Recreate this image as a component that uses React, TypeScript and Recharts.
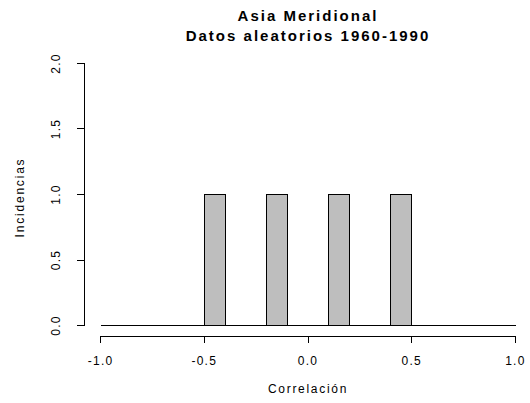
import React from "react";
import { Bar, ComposedChart, ReferenceLine, XAxis, YAxis } from "recharts";

// histogram bins (width 0.1) and counts
const binMids = [
  -0.95, -0.85, -0.75, -0.65, -0.55, -0.45, -0.35, -0.25, -0.15, -0.05,
  0.05, 0.15, 0.25, 0.35, 0.45, 0.55, 0.65, 0.75, 0.85, 0.95,
];
const counts = [0, 0, 0, 0, 0, 1, 0, 0, 1, 0, 0, 1, 0, 0, 1, 0, 0, 0, 0, 0];

const xTicks = [-1, -0.5, 0, 0.5, 1];
const yTicks = [0, 0.5, 1, 1.5, 2];

const title1 = "Asia Meridional";
const title2 = "Datos aleatorios 1960-1990";
const xLabel = "Correlación";
const yLabel = "Incidencias";

// R style axis ranges (4% extension)
const xDomain = [-1.08, 1.08];
const yDomain = [-0.08, 2.08];

const data = binMids.map((mid, i) => ({ mid, count: counts[i] }));

const FONT = '"Liberation Sans", Arial, Helvetica, sans-serif';

const HistRect = (props: any) => {
  const { x, y, width, height } = props;
  if (x == null || y == null) return null;
  return (
    <path
      d={`M${x},${y}h${width}v${height}h${-width}Z`}
      fill="#BEBEBE"
      stroke="#000"
      strokeWidth={1}
      shapeRendering="crispEdges"
    />
  );
};

const XTick = (props: any) => {
  const { x, y, payload } = props;
  return (
    <text
      x={x}
      y={y + 22}
      textAnchor="middle"
      fontSize={12}
      fontFamily={FONT}
      letterSpacing={1.2}
      fill="#000"
    >
      {payload.value.toFixed(1)}
    </text>
  );
};

const YTick = (props: any) => {
  const { x, y, payload } = props;
  const bx = x - 17;
  return (
    <text
      x={bx}
      y={y}
      transform={`rotate(-90, ${bx}, ${y})`}
      textAnchor="middle"
      fontSize={12}
      fontFamily={FONT}
      letterSpacing={1.2}
      fill="#000"
    >
      {payload.value.toFixed(1)}
    </text>
  );
};

export default function App() {
  return (
    <div
      style={{
        position: "absolute",
        left: 0,
        top: 0,
        width: 530,
        height: 403,
        overflow: "hidden",
        background: "#fff",
        fontFamily: FONT,
      }}
    >
      <div
        style={{
          position: "absolute",
          left: 308,
          top: 6,
          transform: "translateX(-50%)",
          whiteSpace: "nowrap",
          textAlign: "center",
          fontWeight: "bold",
          fontSize: 15,
          lineHeight: "19.5px",
          letterSpacing: 2,
          color: "#000",
        }}
      >
        <div>{title1}</div>
        <div>{title2}</div>
      </div>
      <ComposedChart
        width={532}
        height={403}
        data={data}
        margin={{ top: 53, right: 0, bottom: 0, left: 0 }}
        barCategoryGap={0}
        barGap={0}
      >
        <XAxis
          dataKey="mid"
          type="number"
          domain={xDomain}
          ticks={xTicks}
          allowDataOverflow
          axisLine={false}
          tickLine={{ stroke: "#000", shapeRendering: "crispEdges" }}
          tickSize={7}
          tickMargin={0}
          height={67}
          tick={<XTick />}
          interval={0}
          label={{
            content: (p: any) => {
              const vb = p.viewBox;
              return (
                <text
                  x={vb.x + vb.width / 2}
                  y={393}
                  textAnchor="middle"
                  fontSize={12}
                  fontFamily={FONT}
                  letterSpacing={1.7}
                  fill="#000"
                >
                  {xLabel}
                </text>
              );
            },
          }}
        />
        <YAxis
          type="number"
          domain={yDomain}
          ticks={yTicks}
          allowDataOverflow
          axisLine={false}
          tickLine={{ stroke: "#000", shapeRendering: "crispEdges" }}
          tickSize={7}
          tickMargin={0}
          width={84}
          tick={<YTick />}
          interval={0}
          label={{
            content: (p: any) => {
              const vb = p.viewBox;
              const lx = vb.x + 24;
              const ly = vb.y + vb.height / 2 + 3;
              return (
                <text
                  x={lx}
                  y={ly}
                  transform={`rotate(-90, ${lx}, ${ly})`}
                  textAnchor="middle"
                  fontSize={12}
                  fontFamily={FONT}
                  letterSpacing={1.8}
                  fill="#000"
                >
                  {yLabel}
                </text>
              );
            },
          }}
        />
        <Bar
          dataKey="count"
          shape={<HistRect />}
          isAnimationActive={false}
        />
        <ReferenceLine
          segment={[
            { x: xTicks[0], y: yDomain[0] },
            { x: xTicks[xTicks.length - 1], y: yDomain[0] },
          ]}
          stroke="#000"
          strokeWidth={1}
          ifOverflow="visible"
          shapeRendering="crispEdges"
        />
        <ReferenceLine
          segment={[
            { x: xDomain[0], y: yTicks[0] },
            { x: xDomain[0], y: yTicks[yTicks.length - 1] },
          ]}
          stroke="#000"
          strokeWidth={1}
          ifOverflow="visible"
          shapeRendering="crispEdges"
        />
      </ComposedChart>
    </div>
  );
}
